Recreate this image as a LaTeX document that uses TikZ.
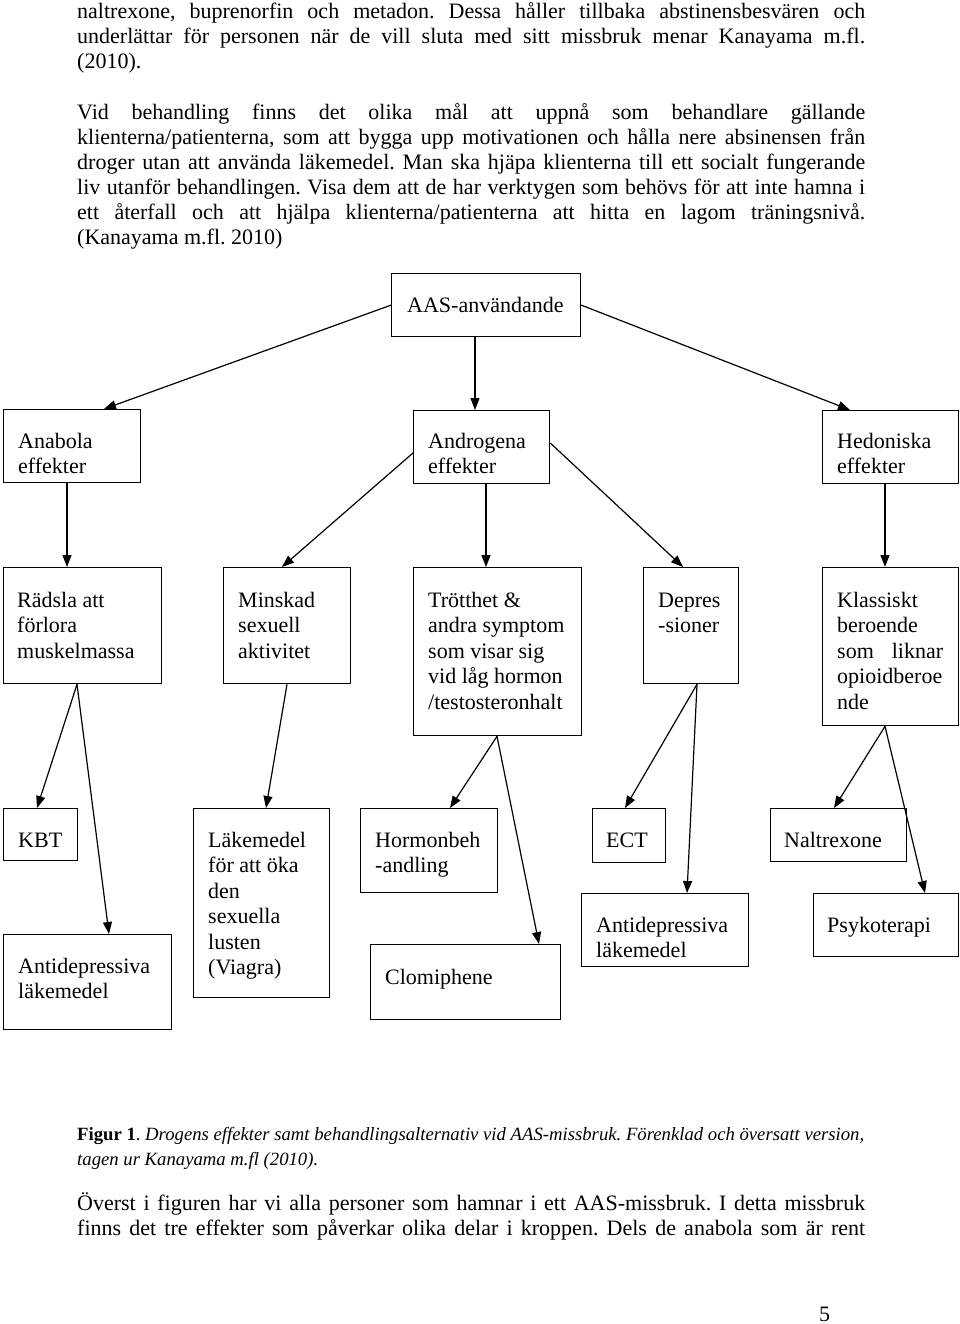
\documentclass[tikz,border=0pt]{standalone}
\usepackage{fontspec}
\setmainfont{Liberation Serif}
\usetikzlibrary{arrows.meta,calc}
\frenchspacing
\tikzset{
  box/.style={draw, line width=1.3pt, inner sep=0pt, anchor=north west},
  txt/.style={anchor=base west, inner sep=0pt, font=\fontsize{22}{25.5}\selectfont},
  para/.style={anchor=base west, inner sep=0pt, font=\fontsize{22}{25}\selectfont},
  capt/.style={anchor=base west, inner sep=0pt, font=\fontsize{18.7}{25}\selectfont},
  conn/.style={line width=1.2pt, -{Triangle[length=12pt,width=9pt]}}
}
\newcommand\bxnode[5]{\node[box,minimum width={#4-#2},minimum height={#5-#3}] (#1) at (#2,#3) {};}
\newcommand\bxtext[4]{\node[txt] (#1) at (#2,#3) {\parbox[t]{200pt}{\raggedright #4}};}
\newcommand\jl[1]{\makebox[788pt][s]{#1}}
\begin{document}
\begin{tikzpicture}[x=1pt,y=-1pt]
\fill[white] (0,0) rectangle (960,1324);
\useasboundingbox (0,0) rectangle (960,1324);

% body text above the figure
\node[para] (p1) at (77,19) {\parbox[t]{788pt}{\frenchspacing
\jl{naltrexone, buprenorfin och metadon. Dessa håller tillbaka abstinensbesvären och}\\
\jl{underlättar för personen när de vill sluta med sitt missbruk menar Kanayama m.fl.}\\
(2010).}};
\node[para] (p2) at (77,120) {\parbox[t]{788pt}{\frenchspacing
\jl{Vid behandling finns det olika mål att uppnå som behandlare gällande}\\
\jl{klienterna/patienterna, som att bygga upp motivationen och hålla nere absinensen från}\\
\jl{droger utan att använda läkemedel. Man ska hjäpa klienterna till ett socialt fungerande}\\
\jl{liv utanför behandlingen. Visa dem att de har verktygen som behövs för att inte hamna i}\\
\jl{ett återfall och att hjälpa klienterna/patienterna att hitta en lagom träningsnivå.}\\
(Kanayama m.fl. 2010)}};

% boxes
\bxnode{aas}{391}{273}{580}{336}
\bxnode{ana}{3}{409}{140}{482}
\bxnode{andro}{413}{410}{549}{483}
\bxnode{hed}{822}{410}{958}{483}
\bxnode{rad}{3}{567}{161}{683}
\bxnode{min}{223}{567}{350}{683}
\bxnode{tro}{413}{567}{581}{735}
\bxnode{dep}{643}{567}{738}{683}
\bxnode{kla}{822}{567}{958}{725}
\bxnode{kbt}{3}{808}{77}{860}
\bxnode{antiL}{3}{934}{171}{1029}
\bxnode{lak}{193}{808}{329}{997}
\bxnode{hor}{360}{808}{497}{892}
\bxnode{clo}{370}{944}{560}{1019}
\bxnode{ect}{592}{808}{665}{862}
\bxnode{antiR}{581}{893}{748}{966}
\bxnode{nal}{770}{808}{906}{861}
\bxnode{psy}{813}{893}{958}{956}

% box texts
\bxtext{taas}{407}{312}{AAS-användande}
\bxtext{tana}{18}{448}{Anabola\\effekter}
\bxtext{tandro}{428}{448}{Androgena\\effekter}
\bxtext{thed}{837}{448}{Hedoniska\\effekter}
\bxtext{trad}{17}{607}{Rädsla att\\förlora\\muskelmassa}
\bxtext{tmin}{238}{607}{Minskad\\sexuell\\aktivitet}
\bxtext{ttro}{428}{607}{Trötthet \&\\andra symptom\\som visar sig\\vid låg hormon\\/testosteronhalt}
\bxtext{tdep}{658}{607}{Depres\\-sioner}
\bxtext{tkla}{837}{607}{Klassiskt\\beroende\\\makebox[106pt][s]{som liknar}\\opioidberoe\\nde}
\bxtext{tkbt}{18}{847}{KBT}
\bxtext{tantiL}{18}{973}{Antidepressiva\\läkemedel}
\bxtext{tlak}{208}{847}{Läkemedel\\för att öka\\den\\sexuella\\lusten\\(Viagra)}
\bxtext{thor}{375}{847}{Hormonbeh\\-andling}
\bxtext{tclo}{385}{984}{Clomiphene}
\bxtext{tect}{606}{847}{ECT}
\bxtext{tantiR}{596}{932}{Antidepressiva\\läkemedel}
\bxtext{tnal}{784}{847}{Naltrexone}
\bxtext{tpsy}{827}{932}{Psykoterapi}

% connectors
\draw[conn] (aas.west) -- ($(ana.north west)+(101,0)$);
\draw[conn] ($(aas.south west)+(84,0)$) -- ($(andro.north west)+(62,0)$);
\draw[conn] (aas.east) -- ($(hed.north west)+(28,0)$);
\draw[conn] ($(ana.south west)+(64,0)$) -- ($(rad.north west)+(64,0)$);
\draw[conn] ($(andro.north west)+(0,43)$) -- ($(min.north west)+(59,0)$);
\draw[conn] ($(andro.south west)+(73,0)$) -- ($(tro.north west)+(73,0)$);
\draw[conn] ($(andro.north east)+(0,33)$) -- ($(dep.north west)+(40,0)$);
\draw[conn] ($(hed.south west)+(63,0)$) -- ($(kla.north west)+(63,0)$);
\draw[conn] ($(rad.south west)+(74,0)$) -- ($(kbt.north west)+(34,0)$);
\draw[conn] ($(rad.south west)+(74,0)$) -- ($(antiL.north west)+(106,0)$);
\draw[conn] ($(min.south west)+(64,0)$) -- ($(lak.north west)+(73,0)$);
\draw[conn] ($(tro.south west)+(84,0)$) -- ($(hor.north west)+(90,0)$);
\draw[conn] ($(tro.south west)+(84,0)$) -- ($(clo.north west)+(169,0)$);
\draw[conn] ($(dep.south west)+(54,0)$) -- ($(ect.north west)+(33,0)$);
\draw[conn] ($(dep.south west)+(54,0)$) -- ($(antiR.north west)+(106,0)$);
\draw[conn] ($(kla.south west)+(63,0)$) -- ($(nal.north west)+(64,0)$);
\draw[conn] ($(kla.south west)+(63,0)$) -- ($(psy.north west)+(112,0)$);

% caption
\node[capt] (cap) at (77,1140) {\parbox[t]{820pt}{\frenchspacing
\textbf{Figur 1}. \textit{Drogens effekter samt behandlingsalternativ vid AAS-missbruk. Förenklad och översatt version,}\\
\textit{tagen ur Kanayama m.fl (2010).}}};

% body text below the figure
\node[para] (p3) at (77,1210) {\parbox[t]{788pt}{\frenchspacing
\jl{Överst i figuren har vi alla personer som hamnar i ett AAS-missbruk. I detta missbruk}\\
\jl{finns det tre effekter som påverkar olika delar i kroppen. Dels de anabola som är rent}}};

% page number
\node[para] (pg) at (819,1321) {5};
\end{tikzpicture}
\end{document}
